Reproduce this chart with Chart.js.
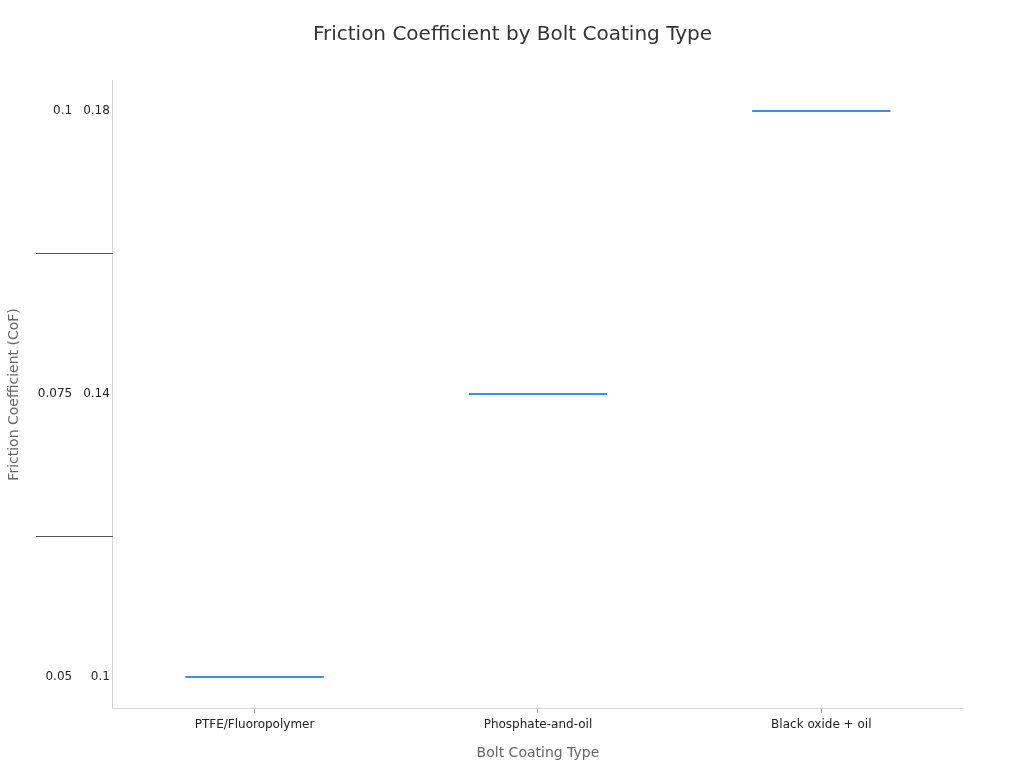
<!DOCTYPE html>
<html>
<head>
<meta charset="utf-8">
<script src="https://cdn.jsdelivr.net/npm/chart.js@4/dist/chart.umd.min.js"></script>
<style>
  html, body { margin: 0; padding: 0; background: #fff; overflow: hidden; }
  #wrap { width: 1024px; height: 768px; position: relative; }
</style>
</head>
<body>
<div id="wrap"><canvas id="cofChart"></canvas></div>
<script>
// coating types and friction coefficient values
const coatings = ['PTFE/Fluoropolymer', 'Phosphate-and-oil', 'Black oxide + oil'];
const cofHigh = [0.1, 0.14, 0.18];
const cofLow = [0.05, 0.075, 0.1];
const highTicks = [0.1, 0.14, 0.18];
const lowTicks = [0.05, 0.075, 0.1];

const fmt = (v) => String(+v.toFixed(4));

// short dark marks between the y tick labels
const midMarks = {
  id: 'midMarks',
  afterDraw(chart) {
    const y = chart.scales.y;
    const y2 = chart.scales.y2;
    const ctx = chart.ctx;
    ctx.save();
    ctx.font = '12px "DejaVu Sans"';
    const widest = Math.max(...lowTicks.map(v => ctx.measureText(fmt(v)).width));
    const startX = Math.round(y2.right - y2.options.ticks.padding - widest) - 2;
    ctx.strokeStyle = '#555';
    ctx.lineWidth = 1;
    for (let i = 1; i < highTicks.length; i++) {
      const mid = (highTicks[i - 1] + highTicks[i]) / 2;
      const py = Math.round(y.getPixelForValue(mid)) + 0.5;
      ctx.beginPath();
      ctx.moveTo(startX, py);
      ctx.lineTo(y.right, py);
      ctx.stroke();
    }
    ctx.restore();
  }
};

const ctx = document.getElementById('cofChart').getContext('2d');
Chart.defaults.font.family = '"DejaVu Sans", sans-serif';

const cofChart = new Chart(ctx, {
  type: 'line',
  data: {
    labels: coatings,
    datasets: [{
      label: 'Friction Coefficient (CoF)',
      data: cofHigh,
      yAxisID: 'y',
      showLine: false,
      pointStyle: 'line',
      pointRadius: 69,
      pointHoverRadius: 69,
      borderWidth: 2,
      borderColor: '#3d8fe0',
      backgroundColor: '#3d8fe0'
    }, {
      label: 'Friction Coefficient (low)',
      data: cofLow,
      yAxisID: 'y2',
      showLine: false,
      pointStyle: 'line',
      pointRadius: 69,
      pointHoverRadius: 69,
      borderWidth: 2,
      borderColor: '#3d8fe0',
      backgroundColor: '#3d8fe0'
    }]
  },
  options: {
    responsive: true,
    maintainAspectRatio: false,
    animation: false,
    layout: { autoPadding: false, padding: { left: 2, right: 1, top: 10, bottom: 2 } },
    plugins: {
      legend: { display: false },
      tooltip: { enabled: false },
      title: {
        display: true,
        text: 'Friction Coefficient by Bolt Coating Type',
        color: '#333',
        font: { size: 20, weight: 'normal' },
        padding: { top: 13, bottom: 33 }
      }
    },
    scales: {
      x: {
        offset: true,
        grid: { display: true, drawOnChartArea: false, drawTicks: true, tickLength: 4, color: '#999' },
        border: { color: '#d6d6d6' },
        ticks: { color: '#222', font: { size: 12 }, padding: 5 },
        title: { display: true, text: 'Bolt Coating Type', color: '#666', font: { size: 14 }, padding: { top: 8, bottom: 4 } }
      },
      y: {
        position: 'left',
        min: 0.0955,
        max: 0.1844,
        afterBuildTicks: (axis) => { axis.ticks = highTicks.map(v => ({ value: v })); },
        grid: { drawOnChartArea: false, drawTicks: false },
        border: { color: '#d6d6d6' },
        ticks: { color: '#222', font: { size: 12 }, padding: 3, callback: fmt }
      },
      y2: {
        position: 'left',
        min: 0.0471875,
        max: 0.10275,
        afterBuildTicks: (axis) => { axis.ticks = lowTicks.map(v => ({ value: v })); },
        grid: { drawOnChartArea: false, drawTicks: false },
        border: { display: false },
        ticks: { color: '#222', font: { size: 12 }, padding: 8, callback: fmt },
        title: { display: true, text: 'Friction Coefficient (CoF)', color: '#666', font: { size: 14 }, padding: { top: 4, bottom: 7 } }
      },
      // empty space on the right of the plot
      yRight: {
        position: 'right',
        grid: { display: false },
        border: { display: false },
        ticks: { display: false },
        afterFit: (axis) => { axis.width = 60; }
      }
    }
  },
  plugins: [midMarks]
});
</script>
</body>
</html>
